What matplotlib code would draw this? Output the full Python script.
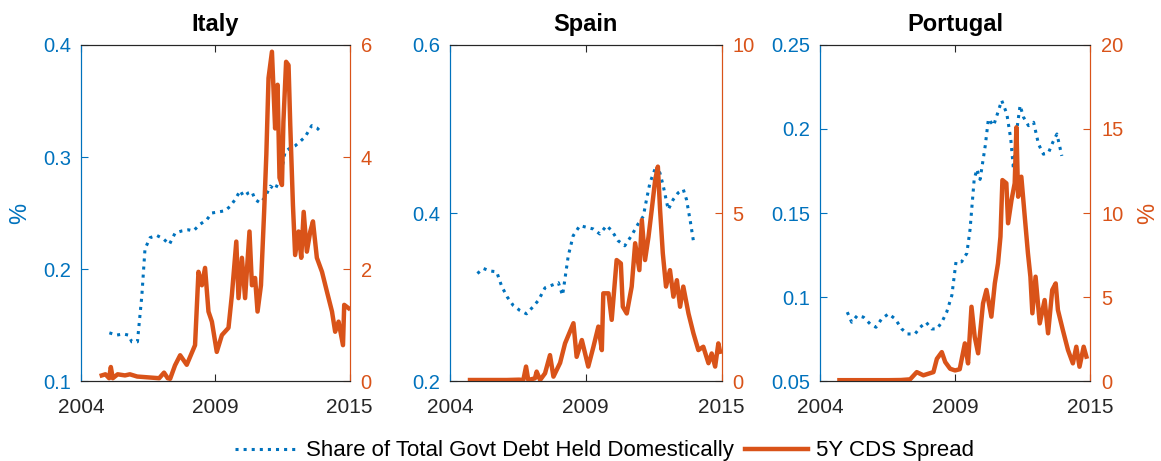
import numpy as np
import matplotlib.pyplot as plt
from matplotlib.ticker import FuncFormatter

plt.rcParams['font.family'] = ['Liberation Sans', 'DejaVu Sans']

BLUE = '#0072BD'
ORANGE = '#D95319'
DARK = '#262626'

# ---- Italy ----
italy_share_t = [2005.16, 2005.46, 2005.73, 2005.94, 2006.08, 2006.31, 2006.49, 2006.62, 2006.83,
                 2007.10, 2007.37, 2007.62, 2007.85, 2008.13, 2008.40, 2008.60, 2008.88, 2009.15,
                 2009.36, 2009.63, 2009.90, 2010.11, 2010.31, 2010.52, 2010.65, 2010.86, 2011.00,
                 2011.13, 2011.34, 2011.54, 2011.75, 2011.95, 2012.16, 2012.36, 2012.57, 2012.77,
                 2012.98, 2013.18, 2013.45, 2013.66, 2013.89]
italy_share = [0.143, 0.141, 0.142, 0.141, 0.135, 0.135, 0.176, 0.218, 0.228,
               0.230, 0.227, 0.222, 0.232, 0.234, 0.235, 0.234, 0.240, 0.244,
               0.250, 0.251, 0.252, 0.256, 0.262, 0.270, 0.265, 0.268, 0.269,
               0.262, 0.259, 0.264, 0.274, 0.271, 0.281, 0.305, 0.308, 0.310,
               0.314, 0.318, 0.328, 0.326, 0.321]
italy_cds_t = [2004.85, 2005.00, 2005.15, 2005.22, 2005.30, 2005.50, 2005.80, 2006.00, 2006.30,
               2006.60, 2006.90, 2007.20, 2007.40, 2007.55, 2007.65, 2007.85, 2008.06, 2008.33,
               2008.67, 2008.81, 2008.95, 2009.08, 2009.22, 2009.36, 2009.56, 2009.77, 2010.04,
               2010.18, 2010.36, 2010.45, 2010.59, 2010.72, 2010.90, 2011.00, 2011.13, 2011.23,
               2011.37, 2011.50, 2011.59, 2011.68, 2011.82, 2011.95, 2012.05, 2012.13, 2012.23,
               2012.29, 2012.40, 2012.50, 2012.57, 2012.68, 2012.77, 2012.91, 2013.02, 2013.12,
               2013.25, 2013.39, 2013.50, 2013.66, 2013.87, 2014.07, 2014.28, 2014.41, 2014.55,
               2014.73, 2014.78, 2014.96]
italy_cds = [0.10, 0.12, 0.05, 0.25, 0.05, 0.12, 0.10, 0.12, 0.08,
             0.07, 0.06, 0.05, 0.15, 0.05, 0.04, 0.28, 0.46, 0.29,
             0.64, 1.95, 1.71, 2.02, 1.24, 1.06, 0.52, 0.82, 0.95,
             1.54, 2.49, 1.48, 2.20, 1.48, 2.67, 1.71, 1.84, 1.24,
             1.71, 3.02, 4.04, 5.41, 5.88, 4.51, 5.29, 3.63, 3.50,
             4.63, 5.70, 5.64, 4.57, 3.14, 2.25, 2.67, 2.20, 3.02,
             2.31, 2.67, 2.85, 2.20, 1.95, 1.60, 1.24, 0.88, 1.06,
             0.64, 1.36, 1.30]

# ---- Spain ----
spain_share_t = [2005.11, 2005.35, 2005.62, 2005.89, 2006.09, 2006.32, 2006.56, 2006.83, 2007.10,
                 2007.35, 2007.58, 2007.85, 2008.12, 2008.39, 2008.56, 2008.79, 2008.99, 2009.26,
                 2009.53, 2009.80, 2010.07, 2010.34, 2010.55, 2010.81, 2011.08, 2011.35, 2011.62,
                 2011.83, 2011.96, 2012.10, 2012.30, 2012.50, 2012.64, 2012.84, 2013.04, 2013.24,
                 2013.45, 2013.58, 2013.74, 2013.88]
spain_share = [0.328, 0.334, 0.331, 0.330, 0.313, 0.300, 0.290, 0.284, 0.280,
               0.288, 0.296, 0.311, 0.314, 0.317, 0.302, 0.349, 0.373, 0.385,
               0.383, 0.381, 0.375, 0.385, 0.379, 0.367, 0.361, 0.373, 0.387,
               0.396, 0.416, 0.436, 0.452, 0.448, 0.432, 0.404, 0.416, 0.424,
               0.428, 0.416, 0.389, 0.363]
spain_cds_t = [2004.81, 2005.30, 2005.80, 2006.30, 2006.80, 2006.97, 2007.08, 2007.17, 2007.44,
               2007.51, 2007.65, 2007.85, 2008.05, 2008.19, 2008.46, 2008.66, 2009.00, 2009.13,
               2009.34, 2009.60, 2009.81, 2010.01, 2010.15, 2010.21, 2010.42, 2010.55, 2010.75,
               2010.92, 2011.00, 2011.16, 2011.36, 2011.50, 2011.67, 2011.77, 2011.90, 2012.04,
               2012.17, 2012.31, 2012.42, 2012.51, 2012.62, 2012.75, 2012.91, 2013.05, 2013.19,
               2013.32, 2013.45, 2013.66, 2013.86, 2014.06, 2014.26, 2014.47, 2014.60, 2014.74,
               2014.87, 2014.94]
spain_cds = [0.03, 0.03, 0.03, 0.03, 0.04, 0.03, 0.43, 0.03, 0.08,
             0.28, 0.03, 0.23, 0.77, 0.13, 0.54, 1.12, 1.72, 0.72,
             1.22, 0.43, 1.02, 1.62, 0.92, 2.61, 2.61, 1.82, 3.60,
             3.50, 2.21, 2.01, 2.81, 4.10, 3.30, 4.79, 3.60, 4.29,
             5.09, 5.98, 6.38, 5.09, 3.80, 2.81, 3.30, 2.51, 3.00,
             2.21, 2.81, 2.01, 1.42, 0.92, 1.02, 0.53, 0.82, 0.43,
             1.12, 0.87]

# ---- Portugal ----
port_share_t = [2005.11, 2005.29, 2005.52, 2005.77, 2006.04, 2006.28, 2006.51, 2006.79, 2007.06,
                2007.33, 2007.56, 2007.87, 2008.08, 2008.32, 2008.55, 2008.76, 2008.96, 2009.16,
                2009.37, 2009.54, 2009.77, 2009.98, 2010.11, 2010.28, 2010.39, 2010.52, 2010.73,
                2010.86, 2011.07, 2011.27, 2011.40, 2011.61, 2011.77, 2011.88, 2012.02, 2012.15,
                2012.29, 2012.49, 2012.70, 2012.90, 2013.10, 2013.31, 2013.48, 2013.65, 2013.85]
port_share = [0.091, 0.085, 0.089, 0.088, 0.084, 0.082, 0.087, 0.090, 0.087,
              0.081, 0.078, 0.078, 0.082, 0.085, 0.081, 0.081, 0.085, 0.091,
              0.101, 0.121, 0.121, 0.126, 0.140, 0.170, 0.176, 0.170, 0.190,
              0.206, 0.202, 0.211, 0.217, 0.209, 0.194, 0.176, 0.200, 0.214,
              0.207, 0.202, 0.204, 0.191, 0.185, 0.186, 0.192, 0.197, 0.184]
port_cds_t = [2004.79, 2005.30, 2005.80, 2006.30, 2006.80, 2007.30, 2007.67, 2007.94, 2008.21,
              2008.62, 2008.76, 2008.96, 2009.10, 2009.30, 2009.50, 2009.69, 2009.90, 2010.03,
              2010.17, 2010.30, 2010.44, 2010.64, 2010.78, 2010.98, 2011.12, 2011.25, 2011.35,
              2011.43, 2011.59, 2011.66, 2011.80, 2011.93, 2012.00, 2012.07, 2012.20, 2012.34,
              2012.47, 2012.57, 2012.65, 2012.78, 2012.95, 2013.15, 2013.29, 2013.46, 2013.60,
              2013.69, 2013.89, 2014.10, 2014.30, 2014.44, 2014.57, 2014.74, 2014.85]
port_cds = [0.05, 0.05, 0.05, 0.05, 0.05, 0.06, 0.10, 0.53, 0.34,
            0.53, 1.32, 1.72, 1.13, 0.73, 0.63, 0.70, 2.24, 1.05,
            4.42, 2.64, 1.65, 4.62, 5.42, 3.83, 5.81, 7.00, 8.59,
            11.96, 11.77, 9.39, 10.77, 11.77, 15.10, 10.97, 12.16, 9.78,
            7.60, 6.21, 4.03, 6.21, 3.43, 4.82, 2.84, 5.42, 5.81,
            4.23, 3.04, 1.85, 1.05, 2.04, 0.85, 2.04, 1.45]

panels = [
    ('Italy', italy_share_t, italy_share, italy_cds_t, italy_cds,
     (0.1, 0.4), [0.1, 0.2, 0.3, 0.4], (0, 6), [0, 2, 4, 6]),
    ('Spain', spain_share_t, spain_share, spain_cds_t, spain_cds,
     (0.2, 0.6), [0.2, 0.4, 0.6], (0, 10), [0, 5, 10]),
    ('Portugal', port_share_t, port_share, port_cds_t, port_cds,
     (0.05, 0.25), [0.05, 0.1, 0.15, 0.2, 0.25], (0, 20), [0, 5, 10, 15, 20]),
]

fig = plt.figure(figsize=(11.61, 4.61), dpi=100)
lefts = [0.0698, 0.3876, 0.7063]
widths = [0.2313, 0.2339, 0.2326]
gfmt = FuncFormatter(lambda v, p: '%g' % v)

for i, (name, st, sv, ct, cv, ylim_l, yt_l, ylim_r, yt_r) in enumerate(panels):
    ax = fig.add_axes([lefts[i], 0.1735, widths[i], 0.7289])
    ax2 = ax.twinx()
    h1, = ax.plot(st, sv, ':', color=BLUE, lw=2.2)
    h2, = ax2.plot(ct, cv, '-', color=ORANGE, lw=3.2)

    ax.set_xlim(2004, 2015)
    # three evenly spaced date ticks, middle one sits mid-2009
    ax.set_xticks([2004, 2009.5, 2015])
    ax.set_xticklabels(['2004', '2009', '2015'])
    ax.set_ylim(*ylim_l)
    ax.set_yticks(yt_l)
    ax.yaxis.set_major_formatter(gfmt)
    ax2.set_ylim(*ylim_r)
    ax2.set_yticks(yt_r)
    ax2.yaxis.set_major_formatter(gfmt)

    ax.tick_params(axis='x', direction='in', top=True, length=5, colors=DARK,
                   labelsize=15, pad=12)
    ax.tick_params(axis='y', direction='in', length=5, colors=BLUE, labelsize=14.5, pad=7)
    ax2.tick_params(axis='y', direction='in', length=5, colors=ORANGE, labelsize=14.5, pad=8)
    for a in (ax, ax2):
        a.spines['top'].set_color(DARK)
        a.spines['bottom'].set_color(DARK)
        a.spines['left'].set_color(BLUE)
        a.spines['right'].set_color(ORANGE)
    ax.set_title(name, fontsize=17, fontweight='bold', pad=10)

    if name == 'Italy':
        ax.set_ylabel('%', color=BLUE, fontsize=17, labelpad=9)
    if name == 'Portugal':
        ax2.set_ylabel('%', color=ORANGE, fontsize=17, labelpad=10)

fig.legend([h1, h2], ['Share of Total Govt Debt Held Domestically', '5Y CDS Spread'],
           loc='center', bbox_to_anchor=(0.521, 0.022), ncol=2, frameon=False,
           fontsize=16, handlelength=2.8, columnspacing=0.5, handletextpad=0.4,
           borderaxespad=0, borderpad=0)

fig.savefig('out.png', dpi=100)
